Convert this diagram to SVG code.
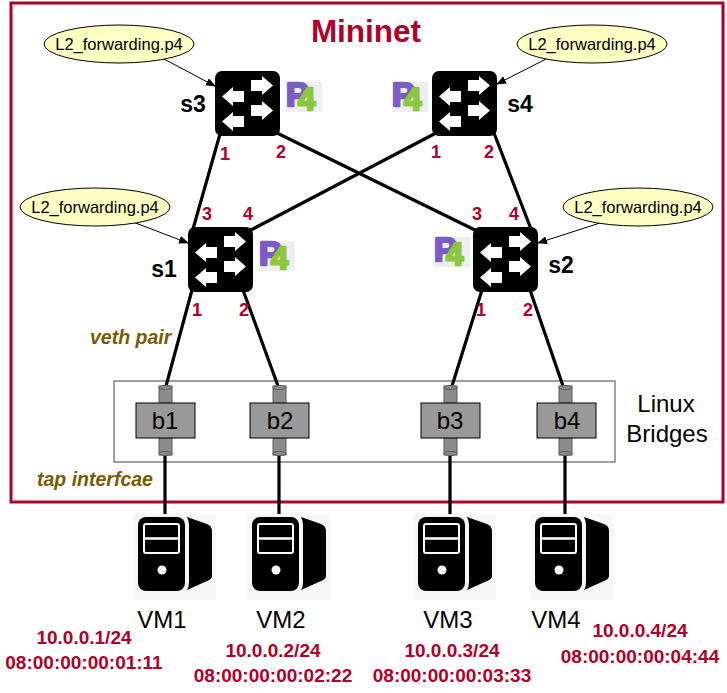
<svg xmlns="http://www.w3.org/2000/svg" width="727" height="693" viewBox="0 0 727 693">
<style>
text{font-family:"Liberation Sans",Arial,sans-serif;fill:#000}
.port{font-size:18px;font-weight:bold;fill:#b00029;text-anchor:middle}
.sw{font-size:23px;font-weight:bold;text-anchor:middle}
.ip{font-size:19px;font-weight:bold;fill:#b00029;text-anchor:middle}
.vm{font-size:24px;text-anchor:middle}
.br{font-size:24px;text-anchor:middle}
.note{font-size:19.500px;font-weight:bold;font-style:italic;fill:#7a5a00}
.p4l{font-size:16.500px;text-anchor:middle}
.ell{fill:#ffffc4;stroke:#000;stroke-width:1}
.link{stroke:#000;stroke-width:3.2;fill:none}
.thin{stroke:#000;stroke-width:1;fill:none}
.cyl{fill:#8c8c8c;stroke:#5a5a5a;stroke-width:1}
.brbox{fill:#999;stroke:#000;stroke-width:1}
.p{font-size:34px;font-weight:bold;fill:#7a5cc4;stroke:#7a5cc4;stroke-width:2.500;stroke-linejoin:round}
.f{font-size:31px;font-weight:bold;fill:#8cc63f;stroke:#8cc63f;stroke-width:2.500;stroke-linejoin:round}
</style>
<defs>
<marker id="ah" markerWidth="10" markerHeight="8" refX="9" refY="4" orient="auto" markerUnits="userSpaceOnUse"><path d="M0 0L10 4L0 8Z" fill="#000"/></marker>
<g id="switch">
<rect width="65" height="65" rx="7" fill="#000"/>
<path fill="#fff" d="M36 9H47V5L58 14.500L47 24V20H36Z"/>
<path fill="#fff" d="M36 34H47V30L58 39.500L47 49V45H36Z"/>
<path fill="#fff" d="M29 20H18V16L7 25.500L18 35V31H29Z"/>
<path fill="#fff" d="M29 45H18V41L7 50.500L18 60V56H29Z"/>
</g>
<g id="p4logo">
<rect width="36" height="30" fill="#eeeeee"/>
<text class="p" x="0" y="24">P</text>
<text class="f" x="12" y="27.500">4</text>
</g>
<g id="bridgecyl">
<rect class="cyl" x="-7" y="0" width="13" height="17"/>
<ellipse class="cyl" cx="-0.500" cy="1.500" rx="6.500" ry="2"/>
<rect class="cyl" x="-7" y="52" width="13" height="17"/>
<ellipse class="cyl" cx="-0.500" cy="67.500" rx="6.500" ry="2"/>
</g>
<g id="server">
<rect width="83" height="86" fill="#f7f7f7"/>
<path fill="#000" d="M54 3L74 10Q79 12 79 17V62Q79 65 74 67L54 76Q56 73 56 68V11Q56 7 54 3Z"/>
<rect x="5" y="3" width="47" height="74" rx="8" fill="#000"/>
<rect x="11" y="10" width="35" height="29" rx="2" fill="none" stroke="#fff" stroke-width="2"/>
<path d="M11 24.500H46" stroke="#fff" stroke-width="2.500"/>
<circle cx="29" cy="56" r="4.500" fill="#fff"/>
</g>
</defs>
<rect x="11" y="3" width="712" height="499" fill="none" stroke="#b00029" stroke-width="3"/>
<text x="366" y="42" font-size="31.500" font-weight="bold" text-anchor="middle" style="fill:#b00029">Mininet</text>
<rect x="114" y="381" width="501" height="81" fill="none" stroke="#808080" stroke-width="1.500"/>
<g id="connectors">
<path class="link" d="M220 134L193 229M277 133L479 232M436 133L249 231M494 133L531 229"/>
<path class="link" d="M192 290L166 386M243 290L278 386M482 290L452 386M530 290L563 386"/>
<path class="link" d="M165 455V514M279 455V514M450 455V514M565 455V514"/>
<path class="thin" marker-end="url(#ah)" d="M162 58L215 86"/>
<path class="thin" marker-end="url(#ah)" d="M548 58L497 84"/>
<path class="thin" marker-end="url(#ah)" d="M133 222L188 243"/>
<path class="thin" marker-end="url(#ah)" d="M600 223L538 243"/>
</g>
<g id="l2-s3"><ellipse class="ell" cx="119" cy="44" rx="75" ry="19"/><text class="p4l" x="119" y="50">L2_forwarding.p4</text></g>
<g id="l2-s4"><ellipse class="ell" cx="592" cy="44" rx="75" ry="19"/><text class="p4l" x="592" y="50">L2_forwarding.p4</text></g>
<g id="l2-s1"><ellipse class="ell" cx="95" cy="207" rx="75" ry="19"/><text class="p4l" x="95" y="213">L2_forwarding.p4</text></g>
<g id="l2-s2"><ellipse class="ell" cx="638" cy="207" rx="75" ry="19"/><text class="p4l" x="638" y="213">L2_forwarding.p4</text></g>
<g id="s3"><use href="#switch" x="215" y="71"/><use href="#p4logo" x="286" y="82"/><text class="sw" x="193" y="112">s3</text>
<text class="port" x="225" y="160">1</text><text class="port" x="281" y="158">2</text></g>
<g id="s4"><use href="#switch" x="432" y="71"/><use href="#p4logo" x="392" y="82"/><text class="sw" x="520" y="112">s4</text>
<text class="port" x="436" y="158">1</text><text class="port" x="489" y="158">2</text></g>
<g id="s1"><use href="#switch" x="188" y="227"/><use href="#p4logo" x="259" y="241"/><text class="sw" x="164" y="277">s1</text>
<text class="port" x="207" y="220">3</text><text class="port" x="248" y="220">4</text>
<text class="port" x="197" y="316">1</text><text class="port" x="244" y="316">2</text></g>
<g id="s2"><use href="#switch" x="473" y="227"/><use href="#p4logo" x="434" y="237"/><text class="sw" x="561" y="273">s2</text>
<text class="port" x="477" y="220">3</text><text class="port" x="514" y="220">4</text>
<text class="port" x="481" y="316">1</text><text class="port" x="528" y="316">2</text></g>
<g id="b1"><use href="#bridgecyl" x="166" y="386"/><rect class="brbox" x="136" y="403" width="59" height="35"/><text class="br" x="165" y="429">b1</text></g>
<g id="b2"><use href="#bridgecyl" x="280" y="386"/><rect class="brbox" x="250" y="403" width="59" height="35"/><text class="br" x="280" y="429">b2</text></g>
<g id="b3"><use href="#bridgecyl" x="451" y="386"/><rect class="brbox" x="421" y="403" width="59" height="35"/><text class="br" x="450" y="429">b3</text></g>
<g id="b4"><use href="#bridgecyl" x="566" y="386"/><rect class="brbox" x="537" y="403" width="59" height="35"/><text class="br" x="567" y="429">b4</text></g>
<g id="vm1"><use href="#server" x="133" y="514"/><text class="vm" x="162" y="628">VM1</text><text class="ip" x="84" y="644">10.0.0.1/24</text><text class="ip" x="84" y="669">08:00:00:00:01:11</text></g>
<g id="vm2"><use href="#server" x="247" y="514"/><text class="vm" x="281" y="628">VM2</text><text class="ip" x="273" y="657">10.0.0.2/24</text><text class="ip" x="273" y="682">08:00:00:00:02:22</text></g>
<g id="vm3"><use href="#server" x="413" y="514"/><text class="vm" x="448" y="628">VM3</text><text class="ip" x="452" y="657">10.0.0.3/24</text><text class="ip" x="452" y="682">08:00:00:00:03:33</text></g>
<g id="vm4"><use href="#server" x="530" y="514"/><text class="vm" x="556" y="628">VM4</text><text class="ip" x="640" y="637">10.0.0.4/24</text><text class="ip" x="640" y="663">08:00:00:00:04:44</text></g>
<text class="note" x="90" y="344">veth pair</text>
<text class="note" x="37" y="486">tap interfcae</text>
<text class="br" x="666" y="412">Linux</text>
<text class="br" x="667" y="442">Bridges</text>
</svg>
